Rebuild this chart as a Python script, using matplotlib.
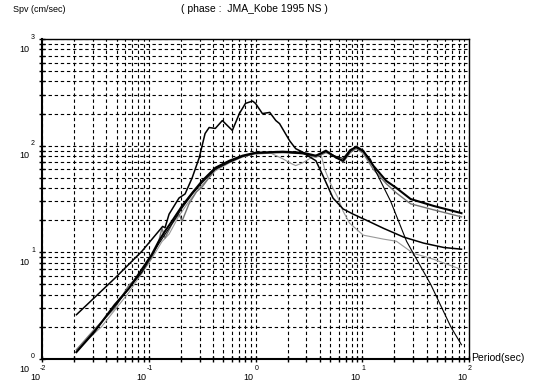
import numpy as np
import matplotlib
matplotlib.use("Agg")
import matplotlib.pyplot as plt

plt.rcParams["font.family"] = ["Liberation Sans", "DejaVu Sans"]

# observed record (thin peak curve)
period_obs = [0.021, 0.048, 0.086, 0.124, 0.135, 0.142, 0.155, 0.192, 0.219, 0.255, 0.297,
              0.337, 0.368, 0.42, 0.489, 0.569, 0.607, 0.706, 0.805, 0.938, 1.0, 1.16, 1.36,
              1.55, 1.68, 2.09, 2.38, 2.7, 3.09, 3.68, 4.29, 5.32, 6.62, 8.22, 11.4, 15.8,
              24.4, 37.6, 58.1, 85]
spv_obs = [2.6, 5.7, 10.2, 15.8, 17.5, 17.0, 22.8, 32.3, 35.3, 49.9, 77.1,
           130, 148, 145, 172, 148, 139, 200, 249, 262, 249, 200, 205,
           172, 161, 111, 93.7, 88, 80.5, 72.2, 52.1, 32.3, 25.5, 22.8, 19.6, 16.8,
           13.9, 12.2, 11.1, 10.7]

# plateau bundle
period_fit = [0.021, 0.031, 0.048, 0.065, 0.086, 0.107, 0.124, 0.142, 0.165, 0.205, 0.255,
              0.316, 0.42, 0.569, 0.753, 1.0, 1.8, 2.77, 3.68, 4.57, 5.69, 6.62, 7.71, 8.77,
              10.2, 12.7, 16.8, 20.9, 28.4, 46.8, 85]
spv_fit_a = [1.16, 1.8, 3.23, 4.57, 6.91, 9.58, 12.7, 15.8, 19.6, 27.2, 36,
             46.7, 62, 72.2, 80.5, 85.9, 87.8, 85.9, 80.5, 89.7, 77.1, 72.2, 89.7, 97.9,
             89.7, 64.8, 46.7, 40.1, 31.6, 27.2, 23.3]
period_fit_b = [0.021, 0.031, 0.048, 0.065, 0.086, 0.107, 0.124, 0.133, 0.142, 0.165, 0.192,
                0.205, 0.238, 0.28, 0.316, 0.42, 0.569, 0.753, 1.0, 1.8, 2.77, 3.68, 4.57,
                5.69, 6.62, 7.71, 8.77, 10.2, 12.7, 16.8, 20.9, 28.4, 46.8, 85]
spv_fit_b = [1.22, 1.9, 3.0, 4.9, 6.4, 9.0, 12.7, 16.8, 13.6, 18.4, 22.8,
             19.6, 28.4, 37, 41, 60, 70, 79, 84, 86, 84, 78, 86,
             79, 70, 86, 94, 85, 60, 44, 36, 28.5, 25.0, 21.5]

# thin grey curve
period_c = [0.021, 0.036, 0.065, 0.107, 0.133, 0.155, 0.192, 0.238, 0.297, 0.42, 0.569,
            0.753, 1.0, 1.36, 1.8, 2.09, 2.38, 2.77, 3.68, 4.1, 4.45, 5.0, 5.94, 6.6,
            7.6, 10.2, 15.8, 20.9, 30, 46.8, 85]
spv_c = [1.22, 2.0, 4.2, 8.8, 12.6, 14.8, 22, 30, 40, 58, 69,
         78, 84, 86, 75.4, 69.1, 65, 69.1, 82, 84, 60, 45, 32.3, 24.4,
         18.8, 14.5, 13.3, 12.7, 9.8, 8.6, 6.9]

# thin black curve, steep fall-off
period_d = [0.021, 0.048, 0.086, 0.124, 0.165, 0.205, 0.255, 0.316, 0.42, 0.569, 0.753,
            1.0, 1.8, 2.77, 3.68, 4.57, 5.69, 6.62, 7.71, 8.77, 10.2, 11.9, 13.3, 18.4,
            26.0, 43.8, 67.6, 85]
spv_d = [1.16, 3.1, 6.5, 12.0, 18.5, 26, 35, 45, 60, 70, 79,
         85, 87, 84, 80, 88, 79, 76, 92, 96, 88, 75, 58.1, 30.3,
         12.7, 5.0, 2.0, 1.36]

decades_x = [-2, -1, 0, 1, 2]
decades_y = [0, 1, 2, 3]

fig = plt.figure(figsize=(5.35, 3.88), dpi=100)
ax = fig.add_axes([42 / 535, 29 / 388, 427 / 535, 320 / 388])

ax.plot(period_c, spv_c, color="0.6", lw=0.8)
ax.plot(period_fit_b, spv_fit_b, color="0.45", lw=1.0)
ax.plot(period_d, spv_d, color="black", lw=0.8)
ax.plot(period_fit, spv_fit_a, color="black", lw=1.5)
ax.plot(period_obs, spv_obs, color="black", lw=1.1)

ax.set_xscale("log")
ax.set_yscale("log")
ax.set_xlim(1e-2, 1e2)
ax.set_ylim(1e0, 1e3)
ax.set_axisbelow(True)
ax.grid(True, which="both", color="black", linestyle=(0, (3, 2.5)), linewidth=0.8)
ax.tick_params(which="both", direction="inout", length=5, width=1,
               labelbottom=False, labelleft=False)
for side in ["left", "bottom"]:
    ax.spines[side].set_linewidth(1.5)
for side in ["top", "right"]:
    ax.spines[side].set_linewidth(1.0)

for k in decades_x:
    ax.annotate(str(k), xy=(10.0 ** k, 0), xycoords=("data", "axes fraction"),
                xytext=(1, -9), textcoords="offset pixels", ha="center", va="center",
                fontsize=5)
    ax.annotate("10", xy=(10.0 ** k, 0), xycoords=("data", "axes fraction"),
                xytext=(-7, -19), textcoords="offset pixels", ha="center", va="center",
                fontsize=6.5)
for k in decades_y:
    ax.annotate(str(k), xy=(0, 10.0 ** k), xycoords=("axes fraction", "data"),
                xytext=(-9, 2), textcoords="offset pixels", ha="center", va="center",
                fontsize=5)
    ax.annotate("10", xy=(0, 10.0 ** k), xycoords=("axes fraction", "data"),
                xytext=(-18, -10), textcoords="offset pixels", ha="center", va="center",
                fontsize=6.5)

fig.text(13 / 535, 1 - 9 / 388, "Spv (cm/sec)", ha="left", va="center", fontsize=6.5)
fig.text(254 / 535, 1 - 9 / 388, "( phase :  JMA_Kobe 1995 NS )", ha="center", va="center",
         fontsize=7.5)
fig.text(471 / 535, 1 - 358 / 388, "Period(sec)", ha="left", va="center", fontsize=7.5)

fig.savefig("out.png", dpi=100)
